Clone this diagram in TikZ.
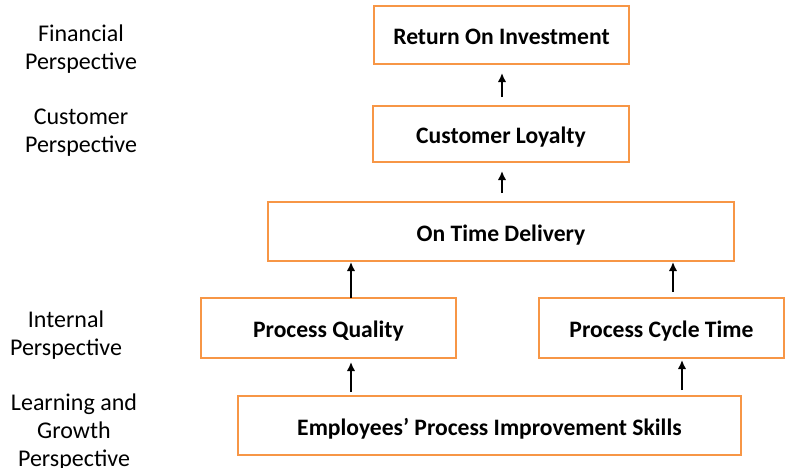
\documentclass[tikz,border=0pt]{standalone}
\usepackage{fontspec}
\setmainfont{Carlito}
\usetikzlibrary{arrows.meta}
\definecolor{boxorange}{HTML}{F79646}
\tikzset{
  goal/.style={draw=boxorange, line width=2.6pt, fill=white, inner sep=0pt, outer sep=0pt,
    text height=20pt, text depth=1pt,
    font=\fontsize{23.6}{28}\selectfont\bfseries, text=black},
  persp/.style={align=center, font=\fontsize{24}{28}\selectfont, text=black},
  link/.style={-{Latex[length=9pt,width=8.5pt]}, line width=2pt, black}
}
\begin{document}
\begin{tikzpicture}[x=1pt,y=-1pt]
\useasboundingbox (0,0) rectangle (785,467);

% perspective labels
\node[persp] (fin) at (81,49) {Financial\\Perspective};
\node[persp] (cus) at (81,133) {Customer\\Perspective};
\node[persp] (int) at (66,335) {Internal\\Perspective};
\node[persp] (lrn) at (74,432) {Learning and\\Growth\\Perspective};

% objective boxes
\node[goal, minimum width=255pt, minimum height=58pt] (roi) at (501.5,35) {Return On Investment};
\node[goal, minimum width=256pt, minimum height=56pt] (cl) at (501,134) {Customer Loyalty};
\node[goal, minimum width=466pt, minimum height=59pt] (otd) at (501,231.5) {On Time Delivery};
\node[goal, minimum width=255pt, minimum height=60pt] (pq) at (328.5,328) {Process Quality};
\node[goal, minimum width=245pt, minimum height=60pt] (pct) at (661.5,328) {Process Cycle Time};
\node[goal, minimum width=503pt, minimum height=59pt] (emp) at (489.5,425.5) {Employees’ Process Improvement Skills};

% cause-and-effect links
\draw[link, shorten <=9pt, shorten >=9pt] (cl.north -| 502,0) -- (roi.south -| 502,0);
\draw[link, shorten <=9pt, shorten >=9pt] (otd.north -| 502,0) -- (cl.south -| 502,0);
\draw[link, shorten >=1pt] (pq.north -| 351,0) -- (otd.south -| 351,0);
\draw[link, shorten <=6pt, shorten >=1pt] (pct.north -| 673,0) -- (otd.south -| 673,0);
\draw[link, shorten <=4pt, shorten >=4pt] (emp.north -| 351,0) -- (pq.south -| 351,0);
\draw[link, shorten <=6pt, shorten >=2pt] (emp.north -| 682,0) -- (pct.south -| 682,0);
\end{tikzpicture}
\end{document}
